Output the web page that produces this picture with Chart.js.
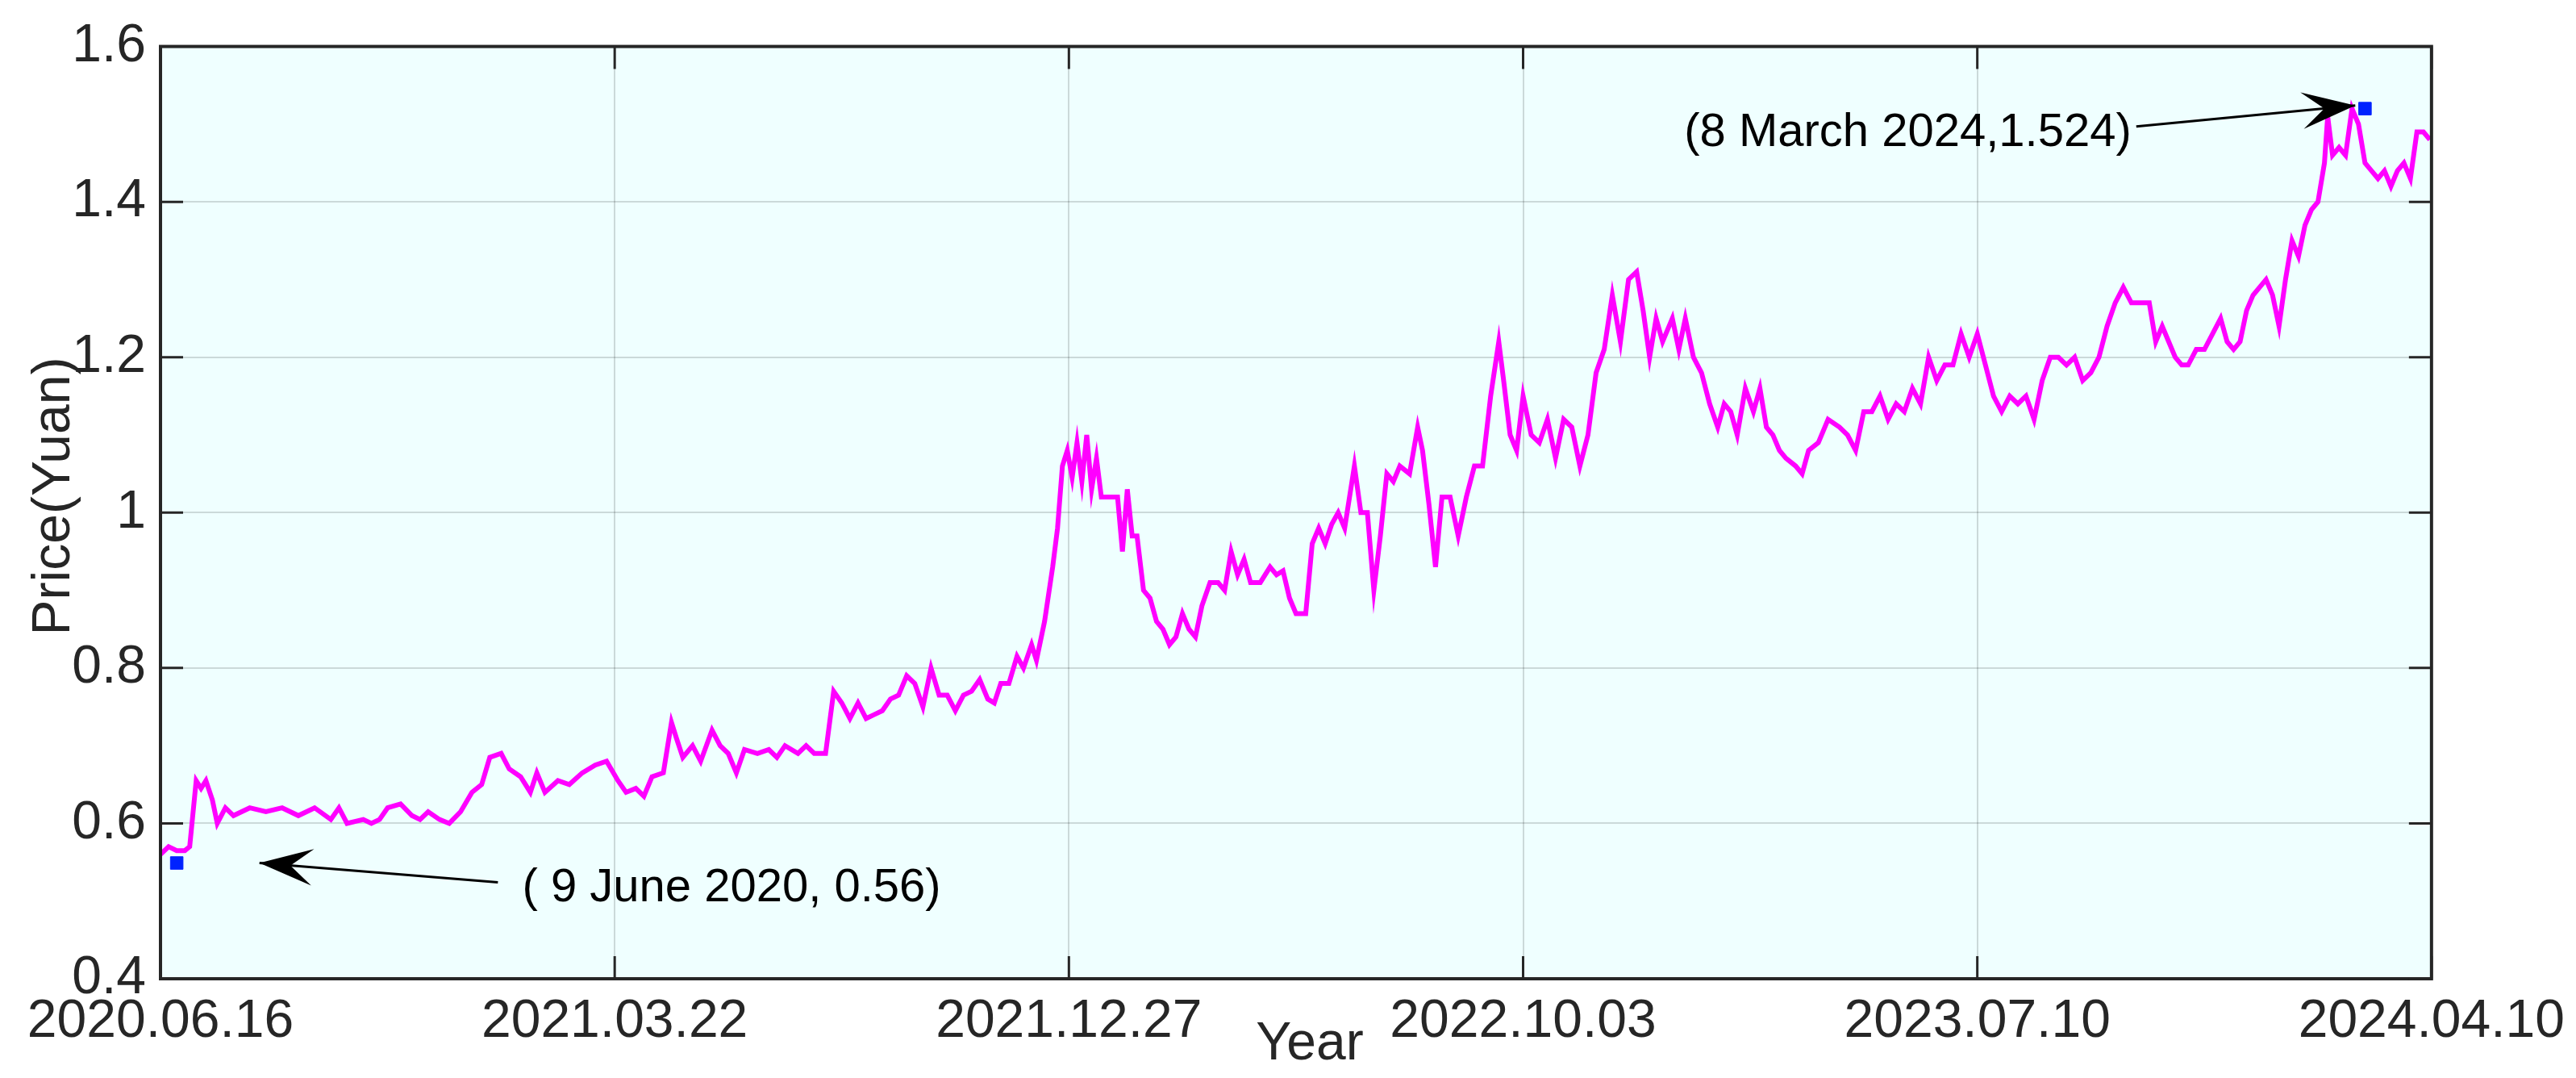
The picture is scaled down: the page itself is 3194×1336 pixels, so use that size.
<!DOCTYPE html>
<html><head><meta charset="utf-8">
<script src="https://cdn.jsdelivr.net/npm/chart.js@4"></script>
<style>html,body{margin:0;padding:0;background:#fff}#w{width:3194px;height:1336px}</style>
</head><body><div id="w"><canvas id="c"></canvas></div>
<script>
const tickPositions=[0,280,560,840,1120,1400];
const tickLabels=['2020.06.16','2021.03.22','2021.12.27','2022.10.03','2023.07.10','2024.04.10'];
const dayIndex=[0,5,10,15,18,22,25,28,32,35,40,45,55,65,75,85,95,105,110,115,125,130,135,140,148,155,160,165,172,178,185,192,198,203,210,215,222,228,232,237,245,252,260,268,275,282,287,293,298,303,310,315,318,322,328,333,340,345,350,355,360,368,375,380,385,393,398,403,410,415,420,425,430,435,440,445,450,455,460,465,470,475,480,485,490,495,500,505,510,514,518,523,528,532,537,540,545,550,553,556,559,562,565,568,571,574,577,580,584,590,593,596,599,602,606,610,614,618,622,626,630,634,638,642,647,652,656,660,664,668,672,678,684,688,692,696,700,706,710,714,718,722,726,730,736,740,744,748,752,756,760,764,770,775,778,782,786,790,795,800,805,810,815,820,825,828,832,836,840,845,850,855,860,865,870,875,880,885,890,895,900,905,910,914,918,922,926,932,936,940,945,950,955,960,964,968,972,977,982,986,990,994,998,1002,1008,1012,1016,1022,1028,1035,1040,1045,1050,1055,1060,1065,1070,1075,1080,1085,1090,1095,1100,1105,1110,1115,1120,1125,1130,1135,1140,1145,1150,1155,1160,1165,1170,1175,1180,1185,1190,1195,1200,1205,1210,1215,1220,1226,1230,1234,1238,1242,1246,1250,1255,1260,1265,1270,1274,1278,1282,1286,1290,1294,1298,1302,1306,1310,1314,1318,1322,1326,1330,1334,1336,1339,1343,1347,1351,1355,1359,1363,1367,1371,1375,1379,1383,1387,1391,1395,1399];
const price=[0.56,0.57,0.565,0.565,0.57,0.655,0.645,0.655,0.63,0.60,0.62,0.61,0.62,0.615,0.62,0.61,0.62,0.605,0.62,0.60,0.605,0.60,0.605,0.62,0.625,0.61,0.605,0.615,0.605,0.60,0.615,0.64,0.65,0.685,0.69,0.67,0.66,0.64,0.665,0.64,0.655,0.65,0.665,0.675,0.68,0.655,0.64,0.645,0.635,0.66,0.665,0.73,0.71,0.685,0.70,0.68,0.72,0.70,0.69,0.665,0.695,0.69,0.695,0.685,0.70,0.69,0.70,0.69,0.69,0.77,0.755,0.735,0.755,0.735,0.74,0.745,0.76,0.765,0.79,0.78,0.75,0.80,0.765,0.765,0.745,0.765,0.77,0.785,0.76,0.755,0.78,0.78,0.815,0.80,0.83,0.81,0.86,0.93,0.98,1.06,1.08,1.045,1.09,1.04,1.10,1.03,1.07,1.02,1.02,1.02,0.95,1.03,0.97,0.97,0.90,0.89,0.86,0.85,0.83,0.84,0.87,0.85,0.84,0.88,0.91,0.91,0.90,0.95,0.92,0.94,0.91,0.91,0.93,0.92,0.925,0.89,0.87,0.87,0.96,0.98,0.96,0.985,1.00,0.98,1.06,1.00,1.00,0.90,0.97,1.05,1.04,1.06,1.05,1.11,1.08,1.01,0.93,1.02,1.02,0.97,1.02,1.06,1.06,1.15,1.22,1.17,1.10,1.08,1.15,1.10,1.09,1.12,1.07,1.12,1.11,1.06,1.10,1.18,1.21,1.28,1.22,1.30,1.31,1.26,1.20,1.25,1.22,1.25,1.21,1.25,1.20,1.18,1.14,1.11,1.14,1.13,1.10,1.16,1.13,1.16,1.11,1.10,1.08,1.07,1.06,1.05,1.08,1.09,1.12,1.11,1.10,1.08,1.13,1.13,1.15,1.12,1.14,1.13,1.16,1.14,1.20,1.17,1.19,1.19,1.23,1.20,1.23,1.19,1.15,1.13,1.15,1.14,1.15,1.12,1.17,1.20,1.20,1.19,1.20,1.17,1.18,1.20,1.24,1.27,1.29,1.27,1.27,1.27,1.22,1.24,1.22,1.20,1.19,1.19,1.21,1.21,1.23,1.25,1.22,1.21,1.22,1.26,1.28,1.29,1.30,1.28,1.24,1.30,1.35,1.33,1.37,1.39,1.40,1.45,1.51,1.46,1.47,1.46,1.52,1.50,1.45,1.44,1.43,1.44,1.42,1.44,1.45,1.43,1.49,1.49,1.48];
const markX=[10,1359];
const markY=[0.549,1.52];
const labels=['( 9 June 2020, 0.56)','(8 March 2024,1.524)'];
const labelX=[223,1215];
const labelY=[0.516,1.488];
const labelAlign=['left','right'];
const arrowFrom=[[208,0.524],[1218,1.497]];
const arrowTo=[[61,0.549],[1353,1.524]];

const F='"Liberation Sans", Arial, sans-serif';
const deco={id:'deco',
 beforeDraw(ch){const a=ch.chartArea,c=ch.ctx;c.save();c.fillStyle='#efffff';c.fillRect(a.left,a.top,a.width,a.height);c.restore();},
 afterDraw(ch){const a=ch.chartArea,c=ch.ctx,x=ch.scales.x,y=ch.scales.y;c.save();
  c.strokeStyle='#262626';c.lineWidth=4;c.strokeRect(a.left,a.top,a.width,a.height);
  c.lineWidth=3;
  for(const v of tickPositions){const px=x.getPixelForValue(v);c.beginPath();c.moveTo(px,a.bottom);c.lineTo(px,a.bottom-28);c.moveTo(px,a.top);c.lineTo(px,a.top+28);c.stroke();}
  for(let v=0.4;v<=1.601;v+=0.2){const py=y.getPixelForValue(v);c.beginPath();c.moveTo(a.left,py);c.lineTo(a.left+28,py);c.moveTo(a.right,py);c.lineTo(a.right-28,py);c.stroke();}
  c.fillStyle='#262626';c.font='66px '+F;c.textAlign='center';c.textBaseline='middle';
  c.fillText('Year',1624,1295);
  c.save();c.translate(68,615);c.rotate(-Math.PI/2);c.fillText('Price(Yuan)',0,0);c.restore();
  c.fillStyle='#000';c.font='58px '+F;
  for(let i=0;i<2;i++){c.textAlign=labelAlign[i];c.fillText(labels[i],x.getPixelForValue(labelX[i]),y.getPixelForValue(labelY[i]));
   const x1=x.getPixelForValue(arrowFrom[i][0]),y1=y.getPixelForValue(arrowFrom[i][1]),x2=x.getPixelForValue(arrowTo[i][0]),y2=y.getPixelForValue(arrowTo[i][1]);
   c.strokeStyle='#000';c.lineWidth=3;c.beginPath();c.moveTo(x1,y1);c.lineTo(x2,y2);c.stroke();
   const ang=Math.atan2(y2-y1,x2-x1),L=70;
   c.beginPath();c.moveTo(x2,y2);c.lineTo(x2-L*Math.cos(ang-0.33),y2-L*Math.sin(ang-0.33));
   c.lineTo(x2-L*0.55*Math.cos(ang),y2-L*0.55*Math.sin(ang));
   c.lineTo(x2-L*Math.cos(ang+0.33),y2-L*Math.sin(ang+0.33));c.closePath();c.fill();}
  c.restore();}};
new Chart(document.getElementById('c'),{
 type:'line',
 data:{datasets:[
  {data:dayIndex.map((d,i)=>({x:d,y:price[i]})),borderColor:'#ff00ff',borderWidth:6,pointRadius:0,tension:0},
  {data:markX.map((d,i)=>({x:d,y:markY[i]})),showLine:false,pointStyle:'rect',pointRadius:11,backgroundColor:'#0022ff',borderColor:'#0022ff'}]},
 options:{responsive:true,maintainAspectRatio:false,animation:false,
  layout:{padding:{top:45,right:126,left:0,bottom:0}},
  plugins:{legend:{display:false},tooltip:{enabled:false}},
  scales:{
   x:{type:'linear',min:0,max:1400,afterBuildTicks(s){s.ticks=tickPositions.map(v=>({value:v}));},
    afterFit(s){s.height=123;},
    ticks:{color:'#262626',font:{size:66,family:F},maxRotation:0,autoSkip:false,padding:14,callback:(v)=>tickLabels[tickPositions.indexOf(v)]},
    grid:{color:'rgba(0,0,0,0.15)',lineWidth:2,drawTicks:false},border:{display:false}},
   y:{min:0.4,max:1.6,afterFit(s){s.width=199;},
    ticks:{stepSize:0.2,color:'#262626',font:{size:66,family:F},padding:18,callback:v=>Math.abs(v-1)<1e-9?'1':v.toFixed(1)},
    grid:{color:'rgba(0,0,0,0.15)',lineWidth:2,drawTicks:false},border:{display:false}}}},
 plugins:[deco]});
</script></body></html>
